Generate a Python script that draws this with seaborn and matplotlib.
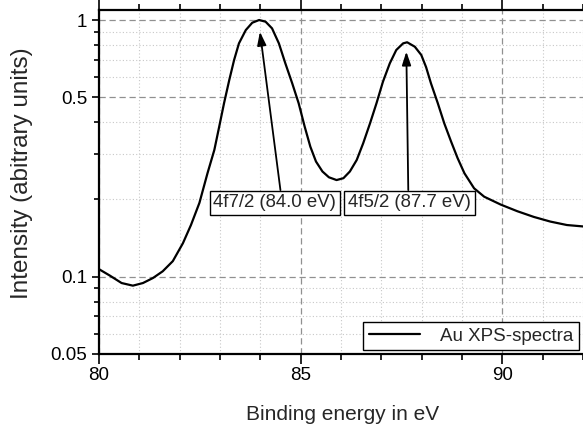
import numpy as np
import pandas as pd
import matplotlib
matplotlib.use("Agg")
import matplotlib.pyplot as plt
import matplotlib.ticker as mticker
import seaborn as sns

# data
energy = [80.0, 80.27, 80.56, 80.84, 81.09, 81.34, 81.58, 81.83, 82.08, 82.28,
          82.49, 82.69, 82.86, 82.98, 83.10, 83.23, 83.35, 83.47, 83.64, 83.80,
          83.97, 84.13, 84.29, 84.46, 84.62, 84.79, 84.95, 85.10, 85.24, 85.38,
          85.54, 85.70, 85.89, 86.06, 86.22, 86.39, 86.55, 86.72, 86.88, 87.04,
          87.21, 87.37, 87.54, 87.64, 87.83, 87.99, 88.11, 88.23, 88.40, 88.56,
          88.73, 88.89, 89.06, 89.30, 89.55, 89.96, 90.37, 90.78, 91.19, 91.60,
          92.0]
intensity = [0.107, 0.101, 0.0945, 0.0923, 0.0945, 0.0989, 0.105, 0.115, 0.135, 0.159,
             0.194, 0.253, 0.312, 0.384, 0.474, 0.584, 0.699, 0.811, 0.914, 0.976,
             1.000, 0.985, 0.928, 0.811, 0.678, 0.567, 0.474, 0.384, 0.321, 0.281,
             0.257, 0.244, 0.238, 0.242, 0.257, 0.285, 0.331, 0.396, 0.474, 0.575,
             0.678, 0.764, 0.811, 0.819, 0.787, 0.731, 0.655, 0.567, 0.474, 0.396,
             0.336, 0.290, 0.253, 0.221, 0.205, 0.191, 0.180, 0.171, 0.164, 0.159,
             0.157]

peak_labels = ["4f7/2 (84.0 eV)", "4f5/2 (87.7 eV)"]
peak_tips = [(83.99, 0.90), (87.62, 0.753)]
label_pos = [(84.36, 0.194), (87.70, 0.194)]
label_rel = [(0.55, 1.0), (0.49, 1.0)]

y_major = [0.05, 0.1, 0.5, 1]
y_major_labels = ["0.05", "0.1", "0.5", "1"]
y_minor = [0.06, 0.07, 0.08, 0.09, 0.2, 0.3, 0.4, 0.6, 0.7, 0.8, 0.9]

sns.set_theme(style="ticks")
plt.rcParams['font.family'] = ['Liberation Sans', 'DejaVu Sans']

df = pd.DataFrame({"energy": energy, "intensity": intensity})

fig = plt.figure(figsize=(5.83, 4.33), dpi=100)
ax = fig.add_axes([99 / 583, 79 / 433, 484 / 583, 344 / 433])

sns.lineplot(data=df, x="energy", y="intensity", ax=ax, color="black",
             lw=1.6, label="Au XPS-spectra")

ax.set_yscale("log")
ax.set_xlim(80, 92)
ax.set_ylim(0.05, 1.094)

ax.xaxis.set_major_locator(mticker.FixedLocator([80, 85, 90]))
ax.xaxis.set_minor_locator(mticker.MultipleLocator(1))
ax.yaxis.set_major_locator(mticker.FixedLocator(y_major))
ax.yaxis.set_major_formatter(mticker.FixedFormatter(y_major_labels))
ax.yaxis.set_minor_locator(mticker.FixedLocator(y_minor))
ax.yaxis.set_minor_formatter(mticker.NullFormatter())

ax.grid(True, which="major", ls=(0, (5, 3)), color="#909090", lw=0.9)
ax.grid(True, which="minor", ls=(0, (1, 2)), color="#c8c8c8", lw=0.8)

for s in ["left", "bottom", "top"]:
    ax.spines[s].set_linewidth(1.6)
    ax.spines[s].set_color("black")
ax.spines["right"].set_visible(False)

ax.tick_params(axis="x", which="both", direction="out", top=True, bottom=True,
               labelsize=13.5, colors="black", width=1.2, pad=2.5)
ax.tick_params(axis="x", which="major", length=7)
ax.tick_params(axis="x", which="minor", length=4)
ax.tick_params(axis="y", which="both", direction="out", labelsize=13.5,
               colors="black", width=1.2)
ax.tick_params(axis="y", which="major", length=5)
ax.tick_params(axis="y", which="minor", length=3.5)

ax.set_xlabel("Binding energy in eV", fontsize=15)
ax.set_ylabel("Intensity (abitrary units)", fontsize=17.5)
ax.xaxis.set_label_coords(0.503, -0.148)
ax.yaxis.set_label_coords(-0.136, 0.525)

for txt, tip, pos, rel in zip(peak_labels, peak_tips, label_pos, label_rel):
    ax.annotate(txt, xy=tip, xytext=pos, ha="center", va="center", fontsize=13.4,
                bbox=dict(boxstyle="square,pad=0.2", fc="white", ec="black", lw=1),
                arrowprops=dict(arrowstyle="-|>,head_length=0.6,head_width=0.2",
                                color="black", lw=1.3, relpos=rel,
                                shrinkA=0, shrinkB=0))

leg = ax.legend(loc="lower right", fontsize=13.5, fancybox=False, framealpha=1,
                edgecolor="black", handlelength=2.7, handletextpad=1.1,
                borderpad=0.3, borderaxespad=0.2)
leg.get_frame().set_linewidth(1)

fig.savefig("out.png", dpi=100)
